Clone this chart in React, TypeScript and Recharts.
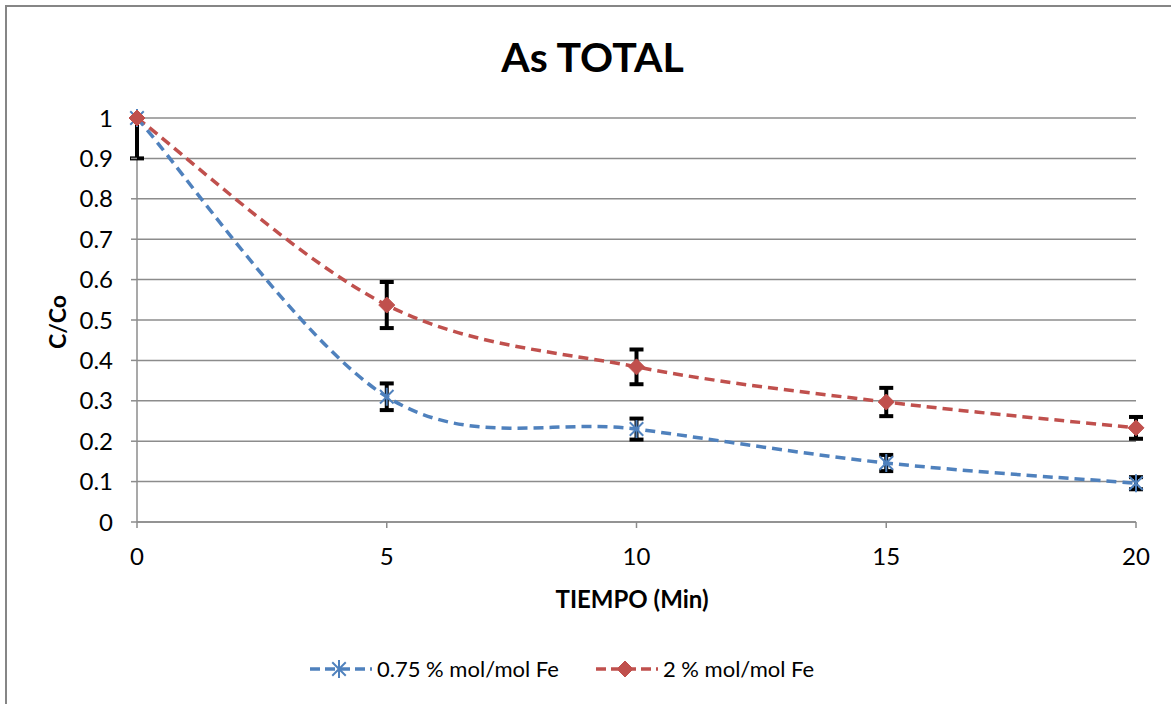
import React from 'react'
import { LineChart, Line, XAxis, YAxis, CartesianGrid, ErrorBar } from 'recharts'

const tiempo = [0, 5, 10, 15, 20]
const fe075 = [1, 0.31, 0.23, 0.146, 0.096]
const fe2 = [1, 0.537, 0.384, 0.297, 0.233]
const fe075Err: (number | [number, number])[] = [[0.1, 0], 0.033, 0.026, 0.02, 0.015]
const fe2Err = [0, 0.057, 0.043, 0.035, 0.027]
const xTicks = [0, 5, 10, 15, 20]
const yTicks = [0, 0.1, 0.2, 0.3, 0.4, 0.5, 0.6, 0.7, 0.8, 0.9, 1]

const BLUE = '#4F81BD'
const RED = '#C0504D'
const GRID = '#8c8c8c'
const FONT = 'Lato, "Open Sans", sans-serif'

const data = tiempo.map((t, i) => ({
  t,
  a: fe075[i],
  aErr: fe075Err[i],
  b: fe2[i],
  bErr: fe2Err[i],
}))

// excel style smoothed line (catmull-rom bezier)
const excelCurve = (context: any) => {
  let pts: [number, number][] = []
  return {
    areaStart() {},
    areaEnd() {},
    lineStart() {
      pts = []
    },
    point(x: number, y: number) {
      pts.push([+x, +y])
    },
    lineEnd() {
      const n = pts.length
      if (!n) return
      context.moveTo(pts[0][0], pts[0][1])
      for (let i = 0; i < n - 1; i++) {
        const p0 = pts[Math.max(i - 1, 0)]
        const p1 = pts[i]
        const p2 = pts[i + 1]
        const p3 = pts[Math.min(i + 2, n - 1)]
        context.bezierCurveTo(
          p1[0] + (p2[0] - p0[0]) / 6,
          p1[1] + (p2[1] - p0[1]) / 6,
          p2[0] - (p3[0] - p1[0]) / 6,
          p2[1] - (p3[1] - p1[1]) / 6,
          p2[0],
          p2[1]
        )
      }
    },
  }
}

function Star({ cx, cy, r = 9 }: { cx: number; cy: number; r?: number }) {
  const d = r * 0.75
  return (
    <g stroke={BLUE} strokeWidth={2}>
      <line x1={cx - d} y1={cy - d} x2={cx + d} y2={cy + d} />
      <line x1={cx - d} y1={cy + d} x2={cx + d} y2={cy - d} />
      <line x1={cx} y1={cy - r} x2={cx} y2={cy + r} />
    </g>
  )
}

function Diamond({ cx, cy, r = 8 }: { cx: number; cy: number; r?: number }) {
  return (
    <polygon
      points={`${cx},${cy - r} ${cx + r},${cy} ${cx},${cy + r} ${cx - r},${cy}`}
      fill={RED}
      stroke={RED}
    />
  )
}

function LegendItem({ color, label, marker }: { color: string; label: string; marker: 'star' | 'diamond' }) {
  return (
    <div style={{ display: 'flex', alignItems: 'center' }}>
      <svg width={64} height={20}>
        <line x1={1} y1={10} x2={63} y2={10} stroke={color} strokeWidth={3.5} strokeDasharray="10 5" />
        {marker === 'star' ? <Star cx={30} cy={10} /> : <Diamond cx={30} cy={10} />}
      </svg>
      <span style={{ marginLeft: 4, fontSize: 22 }}>{label}</span>
    </div>
  )
}

export default function App() {
  return (
    <div
      style={{
        position: 'absolute',
        left: 0,
        top: 0,
        width: 1171,
        height: 704,
        background: '#fff',
        fontFamily: FONT,
        color: '#000',
        overflow: 'hidden',
      }}
    >
      <div
        style={{
          position: 'absolute',
          left: 5,
          top: 5,
          width: 1200,
          height: 740,
          borderLeft: '2px solid #868686',
          borderTop: '2px solid #868686',
        }}
      />
      <div
        style={{
          position: 'absolute',
          left: 0,
          width: 1171,
          top: 32,
          textAlign: 'center',
          fontSize: 41,
          fontWeight: 700,
          paddingLeft: 14,
          boxSizing: 'border-box',
        }}
      >
        As TOTAL
      </div>
      <div
        style={{
          position: 'absolute',
          left: 57,
          top: 322,
          transform: 'translate(-50%, -50%) rotate(-90deg)',
          fontSize: 23,
          fontWeight: 700,
        }}
      >
        C/Co
      </div>
      <div
        style={{
          position: 'absolute',
          left: 137,
          width: 1000,
          top: 584,
          textAlign: 'center',
          fontSize: 24,
          fontWeight: 700,
          paddingRight: 10,
          boxSizing: 'border-box',
        }}
      >
        TIEMPO (Min)
      </div>
      <LineChart
        width={1171}
        height={704}
        data={data}
        margin={{ top: 118, right: 35, left: 0, bottom: 132 }}
        style={{ position: 'absolute', left: 0, top: 0 }}
      >
        <CartesianGrid
          stroke={GRID}
          strokeWidth={1.5}
          verticalCoordinatesGenerator={() => [137]}
        />
        <XAxis
          dataKey="t"
          type="number"
          domain={[0, 20]}
          ticks={xTicks}
          height={50}
          tick={{ fill: '#000', fontSize: 24, fontFamily: FONT }}
          tickSize={6}
          tickMargin={20}
          stroke={GRID}
          strokeWidth={1.5}
        />
        <YAxis
          type="number"
          domain={[0, 1]}
          ticks={yTicks}
          width={137}
          axisLine={false}
          tick={{ fill: '#000', fontSize: 24, fontFamily: FONT }}
          tickSize={6}
          tickMargin={18}
          stroke={GRID}
          strokeWidth={1.5}
        />
        <Line
          dataKey="a"
          type={excelCurve as any}
          stroke={BLUE}
          strokeWidth={3.5}
          strokeDasharray="10 6"
          isAnimationActive={false}
          dot={(p: any) => <Star key={`a${p.index}`} cx={p.cx} cy={p.cy} />}
          activeDot={false}
        >
          <ErrorBar dataKey="aErr" direction="y" width={7} strokeWidth={4} stroke="#000" />
        </Line>
        <Line
          dataKey="b"
          type={excelCurve as any}
          stroke={RED}
          strokeWidth={3.5}
          strokeDasharray="10 6"
          isAnimationActive={false}
          dot={(p: any) => <Diamond key={`b${p.index}`} cx={p.cx} cy={p.cy} />}
          activeDot={false}
        >
          <ErrorBar dataKey="bErr" direction="y" width={7} strokeWidth={4} stroke="#000" />
        </Line>
      </LineChart>
      <div
        style={{
          position: 'absolute',
          top: 655,
          left: 309,
          display: 'flex',
          gap: 36,
        }}
      >
        <LegendItem color={BLUE} label="0.75 % mol/mol Fe" marker="star" />
        <LegendItem color={RED} label="2 % mol/mol Fe" marker="diamond" />
      </div>
    </div>
  )
}
